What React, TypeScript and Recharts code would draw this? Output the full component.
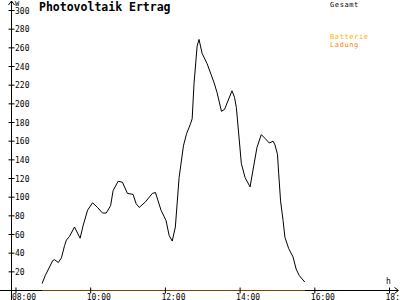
import { LineChart, Line, XAxis, YAxis } from 'recharts';

// minutes since midnight
const times = [
  522, 527, 539, 542, 548, 553, 558, 561, 566, 574, 583, 588, 595, 603, 611, 619, 625, 632, 636, 644,
  651, 659, 668, 673, 678, 688, 699, 704, 713, 721, 726, 731, 736, 742, 749, 754, 760, 763, 766, 771,
  774, 779, 787, 798, 803, 810, 815, 827, 831, 834, 842, 848, 856, 867, 874, 880, 887, 893, 896, 900,
  902, 905, 909, 912, 918, 925, 930, 935, 944,
];
const gesamt = [
  7.5, 16, 32, 33, 30, 35, 48, 54, 58, 68, 56, 70, 86, 94, 89, 83, 83, 91, 107, 117,
  116, 104, 103, 93, 89, 95, 104, 105, 86, 75, 59, 53, 68, 121, 155, 168, 178, 184, 222, 262,
  269, 254, 243, 223, 212, 192, 194, 214, 207, 196, 136, 121, 111, 153, 167, 163, 158, 160, 156, 146,
  125, 96, 75, 57, 45, 36, 23, 16, 9,
];
const ladungTimes = [522, 944];
const ladungValues = [0, 0];

const xTicks = [480, 600, 720, 840, 960, 1080];
const xTickLabels = ['08:00', '10:00', '12:00', '14:00', '16:00', '18:00'];
const yTicks = [20, 40, 60, 80, 100, 120, 140, 160, 180, 200, 220, 240, 260, 280, 300];

const data = times.map((t, i) => ({ t, gesamt: gesamt[i] }));
const ladungData = ladungTimes.map((t, i) => ({ t, ladung: ladungValues[i] }));

const FONT = '"DejaVu Sans Mono", monospace';

function YTick({ x, y, payload }: any) {
  return (
    <g>
      <line x1={x - 3} x2={x + 3} y1={y} y2={y} stroke="#000" />
      <text x={x + 3.5} y={y} dy={3} fontSize={8} fontFamily={FONT} fill="#000" textAnchor="start">
        {payload.value}
      </text>
    </g>
  );
}

function XTick({ x, y, payload }: any) {
  const i = xTicks.indexOf(payload.value);
  return (
    <g>
      <line x1={x} x2={x} y1={y - 3} y2={y + 3} stroke="#000" />
      <text x={x - 4} y={y + 9} fontSize={8} fontFamily={FONT} fill="#000" textAnchor="start">
        {xTickLabels[i]}
      </text>
    </g>
  );
}

export default function App() {
  return (
    <div style={{ position: 'absolute', left: 0, top: 0, width: 400, height: 300, background: '#fff' }}>
      <svg width={400} height={300} style={{ position: 'absolute', left: 0, top: 0 }}>
        {/* axes with arrows */}
        <line x1={11.5} x2={11.5} y1={1} y2={300} stroke="#000" />
        <polyline points="8.5,5 11.5,1 14.5,5" fill="none" stroke="#000" />
        <line x1={0} x2={398} y1={290.5} y2={290.5} stroke="#000" />
        <polyline points="394.5,287.5 398.5,290.5 394.5,293.5" fill="none" stroke="#000" />
        <text x={15} y={6} fontSize={7} fontFamily={FONT} fill="#000">W</text>
        <text x={386} y={284} fontSize={8} fontFamily={FONT} fill="#000">h</text>
        <text x={39} y={11} fontSize={11.5} fontWeight="bold" fontFamily={FONT} fill="#000">
          Photovoltaik Ertrag
        </text>
        <text x={330} y={7} fontSize={7} letterSpacing={0.6} fontFamily={FONT} fill="#000">Gesamt</text>
        <text x={330} y={38.5} fontSize={7} letterSpacing={0.6} fontFamily={FONT} fill="#ffae00">Batterie</text>
        <text x={330} y={46.5} fontSize={7} letterSpacing={0.6} fontFamily={FONT} fill="#ff8000">Ladung</text>
      </svg>
      <div style={{ position: 'absolute', left: 0, top: 0 }}>
        <LineChart width={400} height={300} data={data} margin={{ top: 10.5, right: 5, bottom: 0, left: 0 }}>
          <XAxis
            type="number"
            dataKey="t"
            domain={[472.8, 1088.8]}
            allowDataOverflow
            ticks={xTicks}
            height={9.5}
            axisLine={false}
            tickLine={false}
            tickSize={0}
            tickMargin={0}
            tick={(p: any) => <XTick {...p} />}
            interval={0}
          />
          <YAxis
            type="number"
            domain={[0, 300]}
            allowDataOverflow
            ticks={yTicks}
            width={11.5}
            axisLine={false}
            tickLine={false}
            tickSize={0}
            tickMargin={0}
            tick={(p: any) => <YTick {...p} />}
            interval={0}
          />
          <Line
            type="linear"
            dataKey="gesamt"
            stroke="#000"
            strokeWidth={1}
            dot={false}
            isAnimationActive={false}
          />
          <Line
            type="linear"
            data={ladungData}
            dataKey="ladung"
            stroke="#ff8000"
            strokeWidth={1}
            dot={false}
            isAnimationActive={false}
          />
        </LineChart>
      </div>
    </div>
  );
}
